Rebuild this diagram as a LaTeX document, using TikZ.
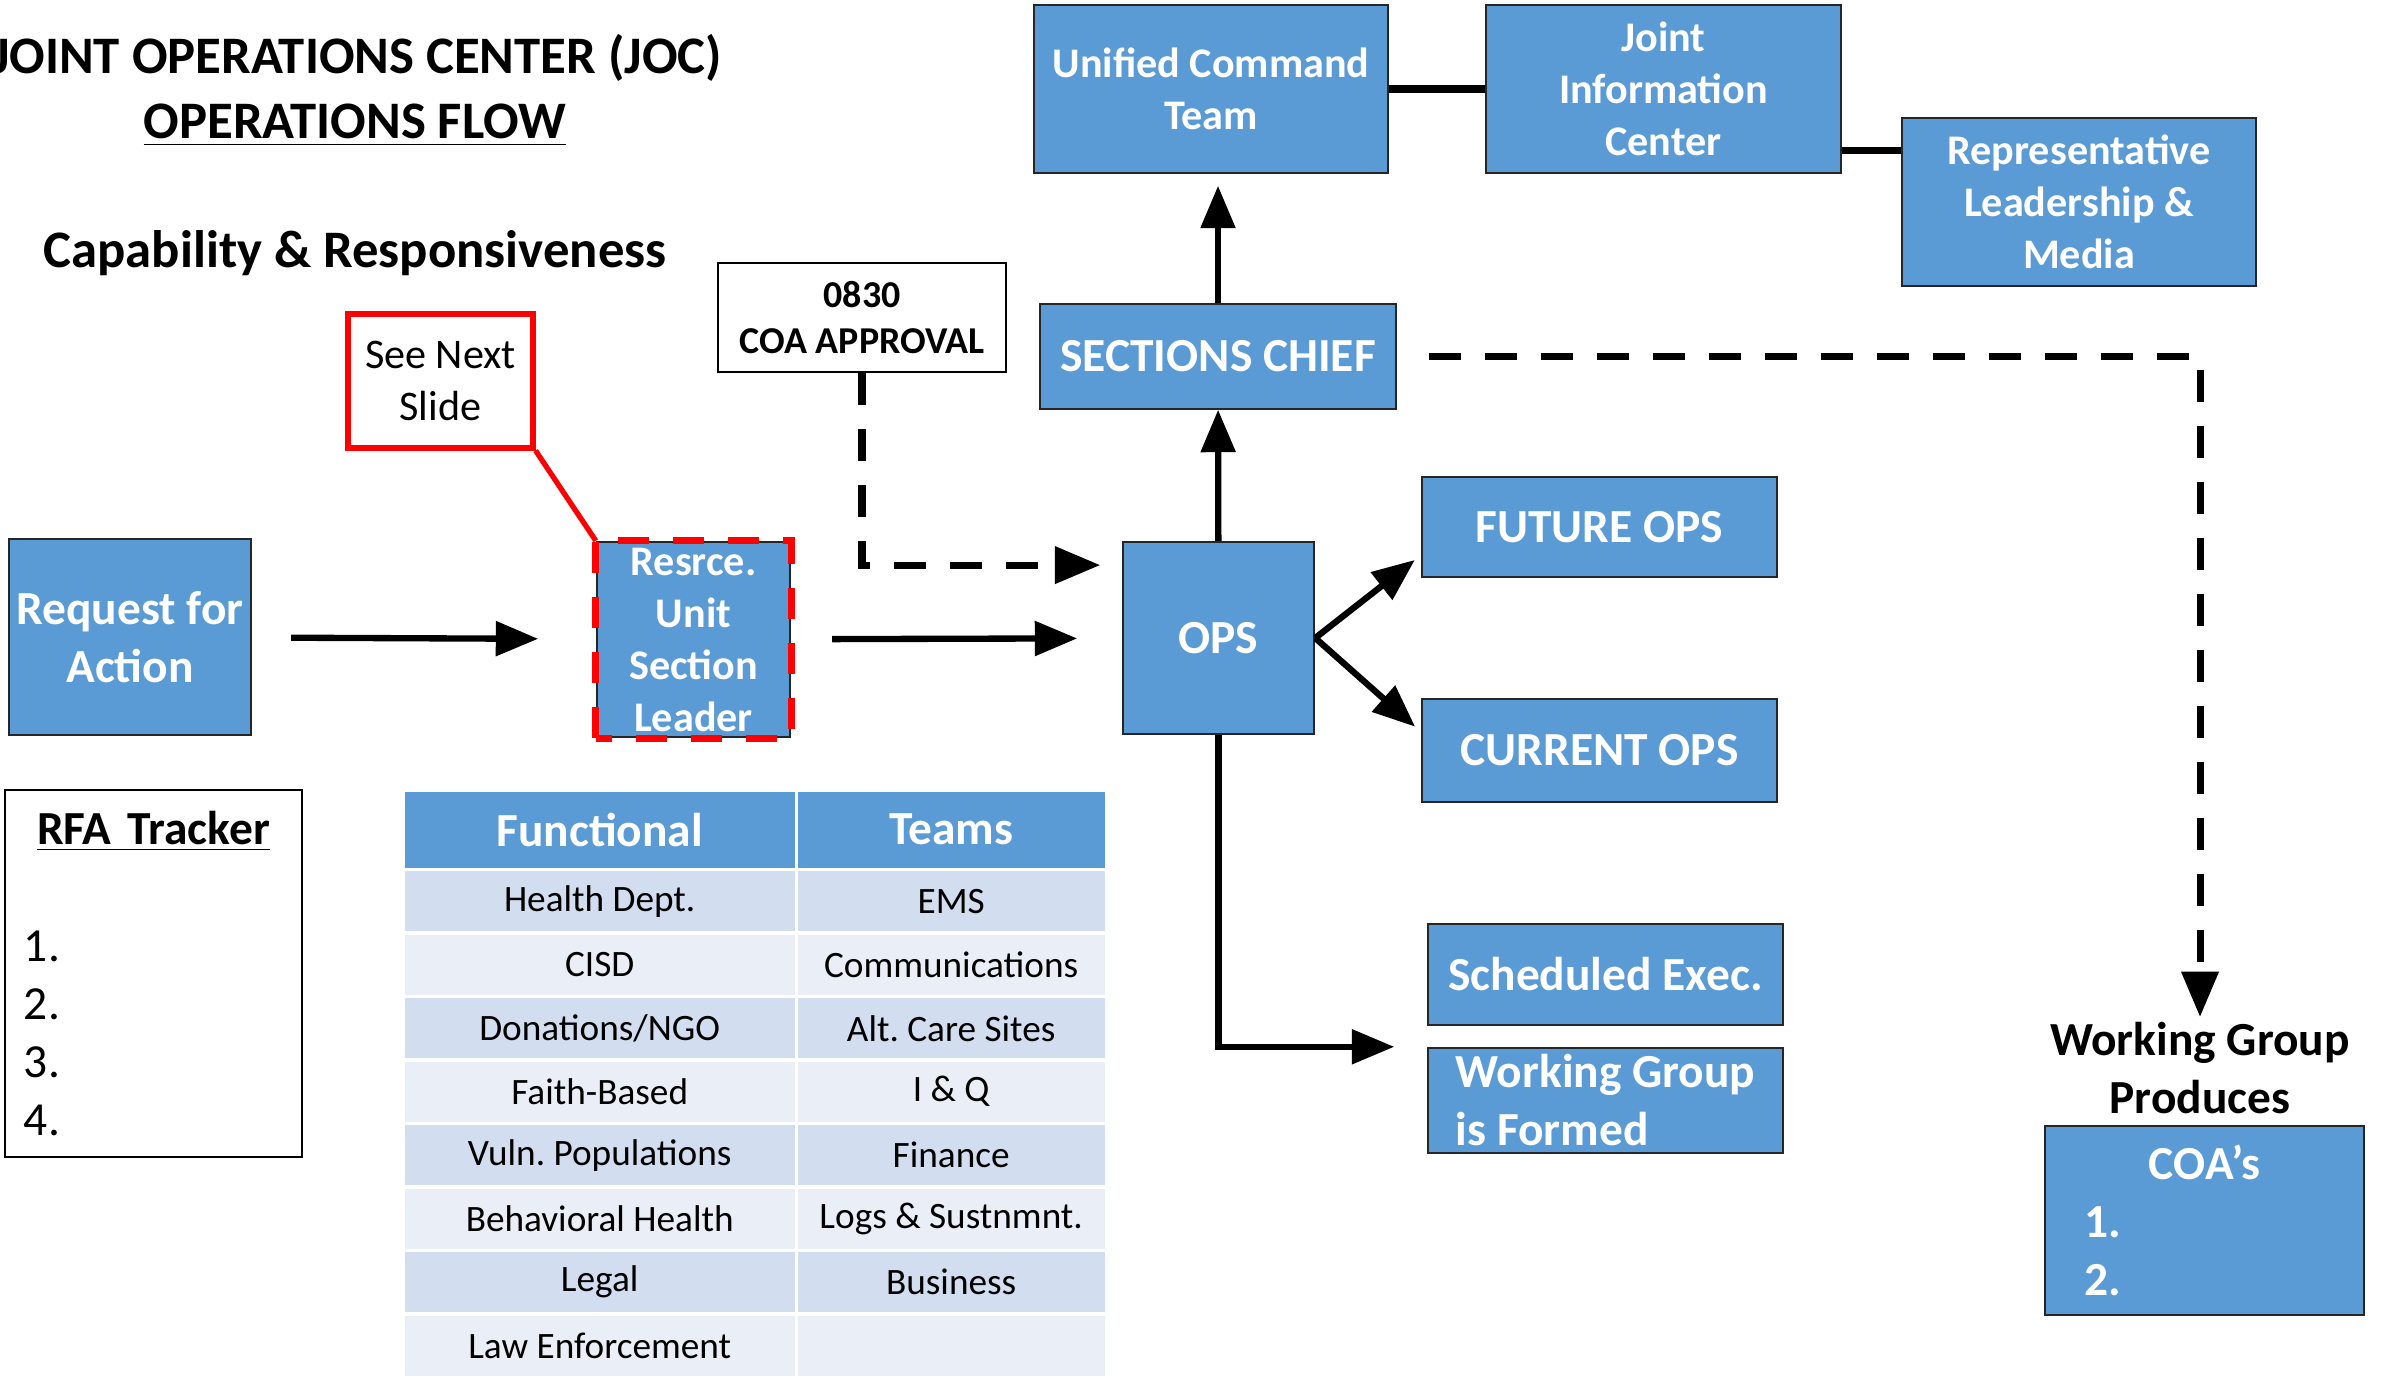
\documentclass[tikz,border=0pt]{standalone}
\usepackage{fontspec}
\setmainfont{Carlito}
\usepackage{tikz}
\usetikzlibrary{matrix,arrows}
\frenchspacing

\definecolor{boxblue}{HTML}{5B9BD5}
\definecolor{rowdark}{HTML}{D2DEEF}
\definecolor{rowlight}{HTML}{EAEFF7}

\newcommand{\jocTitle}{\fontsize{15}{18.3}\selectfont}
\newcommand{\jocBox}{\fontsize{13.5}{16.5}\selectfont}
\newcommand{\jocSmall}{\fontsize{12}{14.8}\selectfont}
\newcommand{\jocNote}{\fontsize{10.8}{13}\selectfont}
\newcommand{\jocCell}{\fontsize{10.6}{13}\selectfont}

\begin{document}
\begin{tikzpicture}[
  blk/.style={draw=black!85, line width=0.7pt, fill=boxblue, text=white, font=\jocBox\bfseries, align=center, inner sep=0pt},
  note/.style={draw=black, line width=0.8pt, align=center, inner sep=0pt},
  arr/.style={-triangle 45, line width=1.8pt},
  dsh/.style={-triangle 45, line width=2pt, dash pattern=on 0.32cm off 0.24cm},
  link/.style={line width=2pt}
]
\useasboundingbox (0,0) rectangle (23.82,-13.83);

% headings
\node[anchor=base, font=\jocTitle\bfseries] (ttl) at (3.57,-0.74) {JOINT OPERATIONS CENTER (JOC)};
\node[anchor=base, font=\jocTitle\bfseries] (ttlb) at (3.55,-1.39) {\underline{OPERATIONS FLOW}};
\node[anchor=base, font=\jocTitle\bfseries] (capab) at (3.55,-2.67) {Capability \& Responsiveness};

% command boxes
\node[blk, font=\jocSmall\bfseries, minimum width=3.54cm, minimum height=1.68cm] (uct) at (12.11,-0.89) {Unified Command\\Team};
\node[blk, font=\jocSmall\bfseries, minimum width=3.55cm, minimum height=1.68cm] (jic) at (16.635,-0.89) {Joint\\Information\\Center};
\node[blk, font=\jocSmall\bfseries, minimum width=3.54cm, minimum height=1.68cm] (rep) at (20.79,-2.02) {Representative\\Leadership \&\\Media};
\node[blk, minimum width=3.56cm, minimum height=1.05cm] (sc) at (12.18,-3.565) {SECTIONS CHIEF};

% notes
\node[note, draw=red, line width=1.5pt, font=\jocSmall, minimum width=1.85cm, minimum height=1.34cm] (snx) at (4.405,-3.81) {See Next\\Slide};
\node[note, font=\jocNote\bfseries, minimum width=2.88cm, minimum height=1.09cm] (coa) at (8.62,-3.175) {0830\\COA APPROVAL};

% flow
\node[blk, minimum width=2.42cm, minimum height=1.96cm] (req) at (1.30,-6.37) {Request for\\Action};
\node[blk, font=\jocSmall\bfseries, minimum width=1.93cm, minimum height=1.95cm] (rul) at (6.935,-6.395) {Resrce.\\Unit\\Section\\Leader};
\draw[red, line width=2pt, dash pattern=on 0.31cm off 0.24cm] (rul.south west) rectangle (rul.north east);
\node[blk, minimum width=1.91cm, minimum height=1.92cm] (ops) at (12.185,-6.38) {OPS};
\node[blk, minimum width=3.55cm, minimum height=1.00cm] (fut) at (15.995,-5.27) {FUTURE OPS};
\node[blk, minimum width=3.55cm, minimum height=1.03cm] (cur) at (15.995,-7.505) {CURRENT OPS};
\node[blk, minimum width=3.55cm, minimum height=1.01cm] (sch) at (16.055,-9.745) {Scheduled Exec.};
\node[blk, align=left, minimum width=3.55cm, minimum height=1.05cm] (wgf) at (16.055,-11.005) {Working Group\\is Formed};

% working group output
\node[font=\jocBox\bfseries, align=center, inner sep=0pt] (wgp) at (22.0,-10.68) {Working Group\\Produces};
\node[blk, align=left, text width=2.41cm, minimum width=3.19cm, minimum height=1.89cm] (coas) at (22.045,-12.205) {\makebox[\hsize]{COA’s}\\1.\\2.};

% tracker
\node[note, font=\jocBox, align=left, text width=2.59cm, minimum width=2.97cm, minimum height=3.67cm] (rfa) at (1.535,-9.735) {\makebox[\hsize]{\bfseries\underline{RFA Tracker}}\\[0.59cm]1.\\2.\\3.\\4.};

% table
\matrix (tbl) [matrix of nodes, anchor=north west, inner sep=0pt, column sep=0.03cm, row sep=0.035cm, nodes in empty cells,
  nodes={font=\jocCell, minimum height=0.6cm, inner sep=0pt, anchor=center, fill=rowlight},
  column 1/.style={nodes={minimum width=3.9cm}},
  column 2/.style={nodes={minimum width=3.07cm}},
  row 1/.style={nodes={fill=boxblue, text=white, font=\jocBox\bfseries, minimum height=0.76cm}},
  row 2/.style={nodes={fill=rowdark}},
  row 4/.style={nodes={fill=rowdark}},
  row 6/.style={nodes={fill=rowdark}},
  row 8/.style={nodes={fill=rowdark}}
] at (4.04,-7.91) {
  Functional & Teams \\
  Health Dept. & EMS \\
  CISD & Communications \\
  Donations/NGO & Alt. Care Sites \\
  Faith-Based & I \& Q \\
  Vuln. Populations & Finance \\
  Behavioral Health & Logs \& Sustnmnt. \\
  Legal & Business \\
  Law Enforcement & \\
};

% connectors
\draw[link] (uct) -- (jic);
\draw[link] (jic.-19) -- (jic.-19 -| rep.west);
\draw[red, line width=1.5pt] (snx.south east) -- (rul.north west);
\path[arr]
  (req) edge[shorten <=0.39cm, shorten >=0.58cm] (rul)
  (rul) edge[shorten <=0.41cm, shorten >=0.45cm] (ops)
  (ops.east) edge[shorten >=0.08cm] (fut.189)
  (ops.east) edge[shorten >=0.08cm] (cur.174)
  (ops) edge (sc)
  (sc.north) edge[shorten >=0.12cm] (sc.north |- uct.south);
\draw[arr, shorten >=0.33cm] (ops.south) |- (wgf.north west);
\draw[dsh, shorten >=0.22cm] (coa.south) |- (ops.143);
\draw[dsh, shorten <=0.32cm, shorten >=0.05cm] (sc.east) -| (wgp.north);
\end{tikzpicture}
\end{document}
